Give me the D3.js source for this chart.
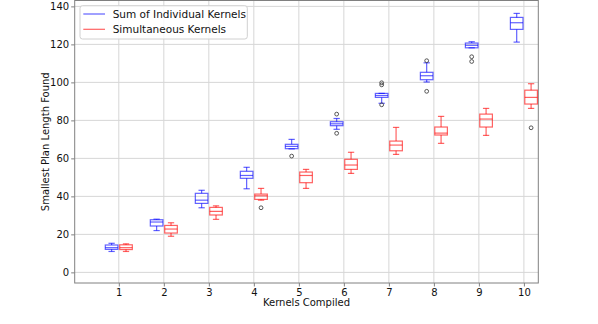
<!DOCTYPE html>
<html><head><meta charset="utf-8">
<script src="https://cdn.jsdelivr.net/npm/d3@7"></script>
<style>body{margin:0;background:#fff}svg{display:block}text{font-family:"DejaVu Sans",sans-serif}</style>
</head><body><svg id="c" width="598" height="324"></svg>
<script>
const kernels = [1,2,3,4,5,6,7,8,9,10];
const yTicks = [0,20,40,60,80,100,120,140];
// Sum of Individual Kernels (blue)
const sumLow  = [11, 22, 34, 44, 65, 75.3, 89, 100.2, 118.2, 121.2];
const sumQ1   = [12.1, 24.4, 36.3, 49.5, 65.1, 77.2, 92.1, 101.4, 118.2, 127.9];
const sumMed  = [13, 26.5, 38, 51, 66.3, 78.2, 93.1, 103.5, 119.5, 131.4];
const sumQ3   = [14.4, 27.7, 41.6, 53.2, 67.4, 79.3, 94.2, 105.3, 120.7, 134.2];
const sumHigh = [15.3, 28, 43.2, 55.3, 70, 81, 94.2, 110.3, 121.4, 136.3];
const sumOutK = [5, 6, 6, 7, 7, 7, 8, 8, 9, 9];
const sumOutV = [61.2, 83.3, 73.2, 99.8, 98.7, 88.2, 111.4, 95.3, 113.5, 111];
// Simultaneous Kernels (red)
const simLow  = [11, 19, 27.9, 38, 44.2, 52.1, 62.1, 67.9, 72.1, 86.3];
const simQ1   = [12, 20.7, 30.2, 38.4, 47.2, 54.2, 64, 72.3, 76.5, 88.6];
const simMed  = [13, 22.8, 32.1, 40.3, 51, 56.5, 67, 73.3, 80.7, 92.1];
const simQ3   = [14.5, 24.7, 34.2, 41.2, 52.8, 59.5, 69.1, 76.5, 83.3, 95.9];
const simHigh = [15, 26.1, 35, 44.2, 54.2, 63.2, 76.3, 82.1, 86.3, 99.3];
const simOutK = [4, 10];
const simOutV = [34, 76.1];

const svg = d3.select('#c');
const x = d3.scaleLinear().domain([0.02, 10.32]).range([74.7, 538.3]);
const y = d3.scaleLinear().domain([-5.6, 143.1]).range([283, 0.5]);

const grid = svg.append('g');
kernels.forEach(k => grid.append('line').attr('x1', x(k)).attr('x2', x(k)).attr('y1', y.range()[0]).attr('y2', y.range()[1]).attr('stroke', '#d6d6d6').attr('stroke-width', 1));
yTicks.forEach(t => grid.append('line').attr('x1', x.range()[0]).attr('x2', x.range()[1]).attr('y1', y(t)).attr('y2', y(t)).attr('stroke', '#d6d6d6').attr('stroke-width', 1));

const xAx = svg.append('g').attr('transform', `translate(0,${y.range()[0]})`).call(d3.axisBottom(x).tickValues(kernels).tickSize(3.5).tickPadding(2).tickFormat(d3.format('d')));
const yAx = svg.append('g').attr('transform', `translate(${x.range()[0]},0)`).call(d3.axisLeft(y).tickValues(yTicks).tickSize(3.5).tickPadding(2));
[xAx, yAx].forEach(a => {
  a.select('.domain').remove();
  a.selectAll('line').attr('stroke', '#808080');
  a.selectAll('text').attr('font-size', 10).attr('fill', '#111').attr('font-family', 'DejaVu Sans');
});
svg.append('rect').attr('x', x.range()[0]).attr('y', y.range()[1]).attr('width', x.range()[1] - x.range()[0]).attr('height', y.range()[0] - y.range()[1]).attr('fill', 'none').attr('stroke', '#808080').attr('stroke-width', 1);

const off = 0.16, bw = 0.28;
function boxes(low, q1, med, q3, high, outK, outV, color, dx) {
  const g = svg.append('g').attr('stroke', color).attr('stroke-width', 1.2).attr('fill', 'none').attr('stroke-opacity', 0.62);
  kernels.forEach((k, i) => {
    const cx = x(k + dx), hw = (x(bw) - x(0)) / 2, cw = hw / 2;
    g.append('rect').attr('x', cx - hw).attr('y', y(q3[i])).attr('width', 2 * hw).attr('height', Math.max(0.5, y(q1[i]) - y(q3[i])));
    g.append('line').attr('x1', cx - hw).attr('x2', cx + hw).attr('y1', y(med[i])).attr('y2', y(med[i]));
    g.append('line').attr('x1', cx).attr('x2', cx).attr('y1', y(q3[i])).attr('y2', y(high[i]));
    g.append('line').attr('x1', cx).attr('x2', cx).attr('y1', y(q1[i])).attr('y2', y(low[i]));
    g.append('line').attr('x1', cx - cw).attr('x2', cx + cw).attr('y1', y(high[i])).attr('y2', y(high[i]));
    g.append('line').attr('x1', cx - cw).attr('x2', cx + cw).attr('y1', y(low[i])).attr('y2', y(low[i]));
  });
  outK.forEach((k, i) => {
    svg.append('circle').attr('cx', x(k + dx)).attr('cy', y(outV[i])).attr('r', 1.9).attr('fill', 'none').attr('stroke', '#444').attr('stroke-width', 0.9);
  });
}
boxes(sumLow, sumQ1, sumMed, sumQ3, sumHigh, sumOutK, sumOutV, 'blue', -off);
boxes(simLow, simQ1, simMed, simQ3, simHigh, simOutK, simOutV, 'red', off);

// axis labels
svg.append('text').attr('x', (x.range()[0] + x.range()[1]) / 2).attr('y', 305.5).attr('text-anchor', 'middle').attr('font-size', 10).attr('fill', '#111').text('Kernels Compiled');
svg.append('text').attr('transform', `translate(48.5,${(y.range()[0] + y.range()[1]) / 2}) rotate(-90)`).attr('text-anchor', 'middle').attr('font-size', 10).attr('fill', '#111').text('Smallest Plan Length Found');

// legend
const lg = svg.append('g');
lg.append('rect').attr('x', 80).attr('y', 5.7).attr('width', 167.3).attr('height', 33.3).attr('rx', 2.5).attr('fill', 'rgba(255,255,255,0.85)').attr('stroke', '#d0d0d0').attr('stroke-width', 1);
const legendNames = ['Sum of Individual Kernels', 'Simultaneous Kernels'];
const legendColors = ['blue', 'red'];
legendNames.forEach((n, i) => {
  const ly = 14 + i * 15.3;
  lg.append('line').attr('x1', 83.3).attr('x2', 105).attr('y1', ly).attr('y2', ly).attr('stroke', legendColors[i]).attr('stroke-opacity', 0.62).attr('stroke-width', 1.2);
  lg.append('text').attr('x', 112.7).attr('y', ly + 3.8).attr('font-size', 10.5).attr('fill', '#111').text(n);
});
</script></body></html>
